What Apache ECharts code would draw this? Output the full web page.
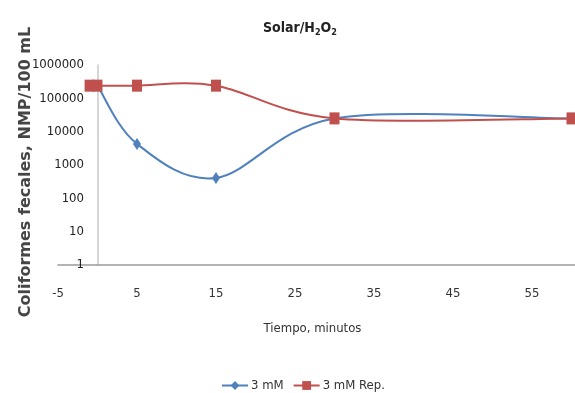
<!DOCTYPE html>
<html>
<head>
<meta charset="utf-8">
<script src="https://cdn.jsdelivr.net/npm/echarts@6/dist/echarts.min.js"></script>
<style>
  html, body { margin: 0; padding: 0; background: #fff; }
  #chart { width: 575px; height: 393px; }
</style>
</head>
<body>
<div id="chart"></div>
<script>
// tiempo (min) y coliformes fecales (NMP/100 mL)
const tiempo3mM = [0, 5, 15, 30, 60]
const valores3mM = [240000, 4300, 410, 25000, 25000]
const tiempoRep = [-1, 0, 5, 15, 30, 60]
const valoresRep = [240000, 240000, 240000, 240000, 25000, 25000]
const yTicks = [1, 10, 100, 1000, 10000, 100000, 1000000]

const BLUE = '#4f81bd'
const RED = '#c0504d'
const narrow = '"Liberation Sans Narrow", "DejaVu Sans Condensed", "Roboto", sans-serif'
const chart = echarts.init(document.getElementById('chart'))

// curva suavizada tipo Excel (Catmull-Rom), dibujada con las coordenadas de los ejes
function curveSeries(name, xs, ys, color) {
  const n = xs.length
  const at = (api, j) => {
    const k = Math.max(0, Math.min(n - 1, j))
    return api.coord([xs[k], ys[k]])
  }
  return {
    type: 'custom',
    name,
    silent: true,
    z: 1,
    clip: true,
    data: xs.map((x, i) => [x, ys[i]]),
    encode: { x: 0, y: 1 },
    renderItem: (params, api) => {
      const i = params.dataIndex
      if (i >= n - 1) return null
      const p0 = at(api, i - 1), p1 = at(api, i), p2 = at(api, i + 1), p3 = at(api, i + 2)
      return {
        type: 'bezierCurve',
        shape: {
          x1: p1[0], y1: p1[1],
          cpx1: p1[0] + (p2[0] - p0[0]) / 6, cpy1: p1[1] + (p2[1] - p0[1]) / 6,
          cpx2: p2[0] - (p3[0] - p1[0]) / 6, cpy2: p2[1] - (p3[1] - p1[1]) / 6,
          x2: p2[0], y2: p2[1],
        },
        style: { stroke: color, lineWidth: 2, fill: null },
      }
    },
  }
}

chart.setOption({
  backgroundColor: '#fff',
  animation: false,
  title: {
    text: '{a|Solar/H}{s|2}{a|O}{s|2}',
    left: 258,
    top: 15,
    textStyle: {
      rich: {
        a: { fontFamily: narrow, fontWeight: 'bold', fontSize: 14, color: '#222' },
        s: { fontFamily: narrow, fontWeight: 'bold', fontSize: 9, color: '#222', verticalAlign: 'bottom', padding: [8, 0, 0, 0] },
      },
    },
  },
  legend: {
    bottom: -4,
    left: 216,
    itemWidth: 26,
    itemHeight: 11,
    itemGap: 9,
    textStyle: { fontFamily: narrow, fontSize: 13, color: '#333', padding: [0, 0, 0, -2] },
    data: [
      { name: '3 mM', lineStyle: { opacity: 1, width: 2, color: BLUE }, itemStyle: { color: BLUE } },
      { name: '3 mM Rep.', lineStyle: { opacity: 1, width: 2, color: RED }, itemStyle: { color: RED } },
    ],
  },
  grid: { left: 58, top: 65, bottom: 128, right: -36, outerBoundsMode: 'none' },
  xAxis: {
    type: 'value',
    min: -5,
    max: 65,
    interval: 10,
    name: 'Tiempo, minutos',
    nameLocation: 'middle',
    nameGap: 57,
    nameTextStyle: { fontFamily: narrow, fontSize: 13, color: '#333', padding: [0, 44, 0, 0] },
    axisLine: { onZero: false, lineStyle: { color: '#9a9a9a', width: 1.5 } },
    axisTick: { show: false },
    splitLine: { show: false },
    axisLabel: { fontFamily: narrow, fontSize: 13, color: '#333', margin: 22 },
  },
  yAxis: {
    type: 'log',
    logBase: 10,
    min: yTicks[0],
    max: yTicks[yTicks.length - 1],
    name: 'Coliformes fecales, NMP/100 mL',
    nameLocation: 'middle',
    nameGap: 24,
    nameMoveOverlap: false,
    nameTextStyle: {
      fontFamily: '"DejaVu Sans", Verdana, sans-serif',
      fontWeight: 'bold',
      fontSize: 16,
      color: '#454545',
      padding: [0, 14, 0, 0],
    },
    axisLine: { show: true, onZero: true, lineStyle: { color: '#c8c8c8', width: 1.5 } },
    axisTick: { show: false },
    splitLine: { show: false },
    axisLabel: {
      align: 'left',
      margin: 24,
      formatter: (v) => '{v|' + Math.round(v) + '}',
      rich: { v: { width: 50, align: 'right', fontFamily: narrow, fontSize: 13, color: '#222' } },
    },
  },
  series: [
    curveSeries('curva 3 mM', tiempo3mM, valores3mM, BLUE),
    curveSeries('curva 3 mM Rep.', tiempoRep, valoresRep, RED),
    {
      name: '3 mM',
      type: 'line',
      z: 3,
      data: tiempo3mM.map((t, i) => [t, valores3mM[i]]),
      symbol: 'diamond',
      symbolSize: [8, 12],
      lineStyle: { color: BLUE, width: 2, opacity: 0 },
      itemStyle: { color: BLUE },
    },
    {
      name: '3 mM Rep.',
      type: 'line',
      z: 4,
      data: tiempoRep.map((t, i) => [t, valoresRep[i]]),
      symbol: 'rect',
      symbolSize: [10, 12],
      lineStyle: { color: RED, width: 2, opacity: 0 },
      itemStyle: { color: RED },
    },
  ],
})
</script>
</body>
</html>
